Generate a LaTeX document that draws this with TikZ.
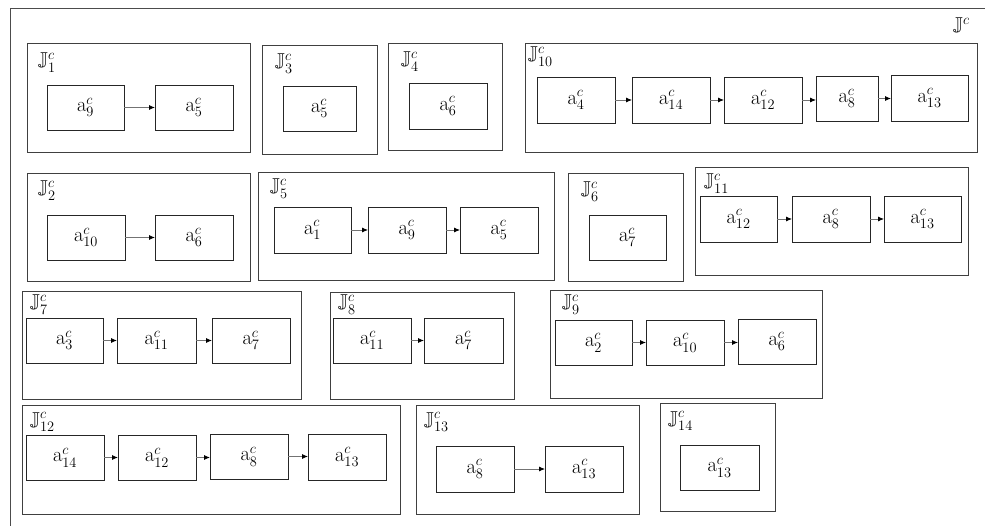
\documentclass[tikz,border=0pt]{standalone}
\usepackage{amssymb}
\usetikzlibrary{arrows.meta}
\newcommand\mkbox[7]{\node[#1, minimum width={(#5-#3)*1pt}, minimum height={(#6-#4)*1pt}] (#2) at ({(#3+#5)/2},{-(#4+#6)/2}) {#7};}
\newcommand\av[1]{$\mathrm{a}^{c}_{#1}$}
\newcommand\jl[1]{$\mathbb{J}^{c}_{#1}$}
\begin{document}
\begin{tikzpicture}[x=1pt,y=1pt,
  abox/.style={draw=black!85, line width=0.9pt, inner sep=0pt, outer sep=0pt, font=\fontsize{22}{26}\selectfont},
  gbox/.style={draw=black!75, line width=0.9pt, inner sep=0pt, outer sep=0pt},
  glabel/.style={anchor=base west, inner sep=0pt, font=\fontsize{20}{24}\selectfont},
  arr/.style={draw=black!55, line width=0.8pt, -{Latex[length=6pt,width=5pt,black]}}]
\useasboundingbox (0,0) rectangle (985,-526);
\begin{scope}
\clip (0,0) rectangle (985,-526);
\draw[draw=black!70, line width=0.9pt] (10,-8) rectangle (1000,-540);
\end{scope}
\node[glabel] (jtop) at (953,-32) {$\mathbb{J}^{c}$};
% Row 1
\mkbox{gbox}{g1}{27}{43}{250}{152}{}
\node[glabel] (l1) at (38,-67) {\jl{1}};
\mkbox{abox}{g1a}{47}{85}{124}{130}{\av{9}}
\mkbox{abox}{g1b}{155}{85}{233}{130}{\av{5}}
\draw[arr] (g1a.east) -- (g1a.east -| g1b.west);
\mkbox{gbox}{g3}{262}{45}{377}{154}{}
\node[glabel] (l3) at (275,-68) {\jl{3}};
\mkbox{abox}{g3a}{283}{86}{356}{131}{\av{5}}
\mkbox{gbox}{g4}{388}{43}{502}{150}{}
\node[glabel] (l4) at (401,-66) {\jl{4}};
\mkbox{abox}{g4a}{409}{83}{487}{129}{\av{6}}
\mkbox{gbox}{g10}{525}{43}{977}{152}{}
\node[glabel] (l10) at (528,-61) {\jl{10}};
\mkbox{abox}{g10a}{537}{77}{615}{123}{\av{4}}
\mkbox{abox}{g10b}{632}{77}{710}{123}{\av{14}}
\mkbox{abox}{g10c}{724}{77}{802}{123}{\av{12}}
\mkbox{abox}{g10d}{816}{76}{878}{121}{\av{8}}
\mkbox{abox}{g10e}{891}{75}{968}{121}{\av{13}}
\draw[arr] (g10a.east) -- (g10a.east -| g10b.west);
\draw[arr] (g10b.east) -- (g10b.east -| g10c.west);
\draw[arr] (g10c.east) -- (g10c.east -| g10d.west);
\draw[arr] (g10d.east) -- (g10d.east -| g10e.west);
% Row 2
\mkbox{gbox}{g2}{27}{173}{250}{281}{}
\node[glabel] (l2) at (38,-195) {\jl{2}};
\mkbox{abox}{g2a}{47}{215}{125}{260}{\av{10}}
\mkbox{abox}{g2b}{155}{215}{233}{260}{\av{6}}
\draw[arr] (g2a.east) -- (g2a.east -| g2b.west);
\mkbox{gbox}{g5}{258}{172}{554}{280}{}
\node[glabel] (l5) at (270,-193) {\jl{5}};
\mkbox{abox}{g5a}{274}{207}{351}{253}{\av{1}}
\mkbox{abox}{g5b}{368}{207}{446}{253}{\av{9}}
\mkbox{abox}{g5c}{460}{207}{538}{253}{\av{5}}
\draw[arr] (g5a.east) -- (g5a.east -| g5b.west);
\draw[arr] (g5b.east) -- (g5b.east -| g5c.west);
\mkbox{gbox}{g6}{568}{173}{683}{281}{}
\node[glabel] (l6) at (581,-196) {\jl{6}};
\mkbox{abox}{g6a}{589}{215}{666}{260}{\av{7}}
\mkbox{gbox}{g11}{695}{167}{968}{275}{}
\node[glabel] (l11) at (704,-188) {\jl{11}};
\mkbox{abox}{g11a}{700}{196}{777}{242}{\av{12}}
\mkbox{abox}{g11b}{792}{196}{870}{242}{\av{8}}
\mkbox{abox}{g11c}{884}{196}{961}{242}{\av{13}}
\draw[arr] (g11a.east) -- (g11a.east -| g11b.west);
\draw[arr] (g11b.east) -- (g11b.east -| g11c.west);
% Row 3
\mkbox{gbox}{g7}{22}{291}{301}{399}{}
\node[glabel] (l7) at (30,-309) {\jl{7}};
\mkbox{abox}{g7a}{26}{318}{103}{363}{\av{3}}
\mkbox{abox}{g7b}{117}{318}{196}{363}{\av{11}}
\mkbox{abox}{g7c}{212}{318}{290}{363}{\av{7}}
\draw[arr] (g7a.east) -- (g7a.east -| g7b.west);
\draw[arr] (g7b.east) -- (g7b.east -| g7c.west);
\mkbox{gbox}{g8}{330}{292}{514}{399}{}
\node[glabel] (l8) at (338,-309) {\jl{8}};
\mkbox{abox}{g8a}{333}{318}{411}{363}{\av{11}}
\mkbox{abox}{g8b}{424}{318}{503}{363}{\av{7}}
\draw[arr] (g8a.east) -- (g8a.east -| g8b.west);
\mkbox{gbox}{g9}{550}{290}{822}{398}{}
\node[glabel] (l9) at (562,-309) {\jl{9}};
\mkbox{abox}{g9a}{555}{320}{632}{365}{\av{2}}
\mkbox{abox}{g9b}{646}{320}{724}{365}{\av{10}}
\mkbox{abox}{g9c}{738}{319}{816}{364}{\av{6}}
\draw[arr] (g9a.east) -- (g9a.east -| g9b.west);
\draw[arr] (g9b.east) -- (g9b.east -| g9c.west);
% Row 4
\mkbox{gbox}{g12}{22}{405}{400}{514}{}
\node[glabel] (l12) at (30,-426) {\jl{12}};
\mkbox{abox}{g12a}{26}{435}{104}{480}{\av{14}}
\mkbox{abox}{g12b}{118}{435}{196}{480}{\av{12}}
\mkbox{abox}{g12c}{210}{434}{288}{479}{\av{8}}
\mkbox{abox}{g12d}{308}{434}{386}{480}{\av{13}}
\draw[arr] (g12a.east) -- (g12a.east -| g12b.west);
\draw[arr] (g12b.east) -- (g12b.east -| g12c.west);
\draw[arr] (g12c.east) -- (g12c.east -| g12d.west);
\mkbox{gbox}{g13}{416}{405}{639}{514}{}
\node[glabel] (l13) at (424,-426) {\jl{13}};
\mkbox{abox}{g13a}{436}{446}{514}{492}{\av{8}}
\mkbox{abox}{g13b}{545}{446}{623}{492}{\av{13}}
\draw[arr] (g13a.east) -- (g13a.east -| g13b.west);
\mkbox{gbox}{g14}{660}{403}{775}{511}{}
\node[glabel] (l14) at (668,-425) {\jl{14}};
\mkbox{abox}{g14a}{680}{445}{759}{490}{\av{13}}
\end{tikzpicture}
\end{document}
